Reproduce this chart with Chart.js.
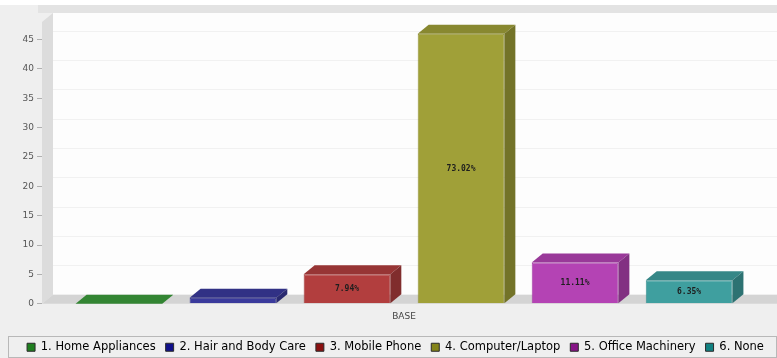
<!DOCTYPE html>
<html>
<head>
<meta charset="utf-8">
<script src="https://cdn.jsdelivr.net/npm/chart.js@4"></script>
<style>
    html, body { margin: 0; padding: 0; background: #ffffff; }
    #wrap { width: 777px; height: 358px; }
</style>
</head>
<body>
<div id="wrap"><canvas id="myChart"></canvas></div>
<script>
const categories = ['1. Home Appliances', '2. Hair and Body Care', '3. Mobile Phone', '4. Computer/Laptop', '5. Office Machinery', '6. None'];
const values = [0, 1, 5, 46, 7, 4];
const percentLabels = ['0%', '1.59%', '7.94%', '73.02%', '11.11%', '6.35%'];
const xLabels = ['BASE'];
const yTickValues = [0, 5, 10, 15, 20, 25, 30, 35, 40, 45];
const barColors = ['#3c9c3c', '#3a3a9c', '#b23e3e', '#a0a038', '#b443b4', '#3f9f9f'];
const legendColors = ['#1f7f1f', '#10108a', '#8a1010', '#84841a', '#861486', '#118181'];

const DX = 11;
const DY = 9;

function shade(hex, f) {
    const n = parseInt(hex.slice(1), 16);
    const r = Math.round(((n >> 16) & 255) * f);
    const g = Math.round(((n >> 8) & 255) * f);
    const b = Math.round((n & 255) * f);
    return `rgb(${r}, ${g}, ${b})`;
}

const fundo3d = {
    id: 'fundo3d',
    beforeDraw(chart) {
        const { ctx, chartArea: a, width, height } = chart;
        const yScale = chart.scales.y;
        ctx.save();
        ctx.fillStyle = '#efefef';
        ctx.fillRect(0, 0, width, height);
        ctx.fillStyle = '#ffffff';
        ctx.fillRect(0, 0, width, 5);

        // faixa de cima
        ctx.fillStyle = '#e3e3e3';
        ctx.fillRect(a.left - 4, 5, width - a.left + 4, a.top - DY - 5);

        // parede do fundo
        ctx.fillStyle = '#fdfdfd';
        ctx.fillRect(a.left + DX, a.top - DY, width - a.left - DX, a.bottom - a.top);

        // linhas de grade na parede
        ctx.strokeStyle = '#f1f1f1';
        ctx.lineWidth = 1;
        yTickValues.forEach(function (v) {
            const y = Math.round(yScale.getPixelForValue(v) - DY) + 0.5;
            ctx.beginPath();
            ctx.moveTo(a.left + DX, y);
            ctx.lineTo(width, y);
            ctx.stroke();
        });

        // parede esquerda
        ctx.fillStyle = '#dcdcdc';
        ctx.beginPath();
        ctx.moveTo(a.left, a.bottom);
        ctx.lineTo(a.left, a.top);
        ctx.lineTo(a.left + DX, a.top - DY);
        ctx.lineTo(a.left + DX, a.bottom - DY);
        ctx.closePath();
        ctx.fill();

        // chao
        ctx.fillStyle = '#d4d4d4';
        ctx.beginPath();
        ctx.moveTo(a.left, a.bottom);
        ctx.lineTo(a.left + DX, a.bottom - DY);
        ctx.lineTo(width, a.bottom - DY);
        ctx.lineTo(width, a.bottom);
        ctx.closePath();
        ctx.fill();
        ctx.restore();
    },
    afterDatasetsDraw(chart) {
        const { ctx } = chart;
        ctx.save();
        chart.data.datasets.forEach(function (ds, i) {
            const meta = chart.getDatasetMeta(i);
            meta.data.forEach(function (bar) {
                const w = bar.width;
                const x0 = bar.x - w / 2;
                const x1 = bar.x + w / 2;
                const top = bar.y;
                const base = bar.base;

                // face de cima
                ctx.fillStyle = shade(barColors[i], 0.85);
                ctx.beginPath();
                ctx.moveTo(x0, top);
                ctx.lineTo(x0 + DX, top - DY);
                ctx.lineTo(x1 + DX, top - DY);
                ctx.lineTo(x1, top);
                ctx.closePath();
                ctx.fill();

                // face lateral
                ctx.fillStyle = shade(barColors[i], 0.72);
                ctx.beginPath();
                ctx.moveTo(x1, top);
                ctx.lineTo(x1 + DX, top - DY);
                ctx.lineTo(x1 + DX, base - DY);
                ctx.lineTo(x1, base);
                ctx.closePath();
                ctx.fill();

                // rotulo
                if (base - top > 14) {
                    ctx.fillStyle = '#1e1e1e';
                    ctx.font = 'bold 8px "DejaVu Sans Mono"';
                    ctx.textAlign = 'center';
                    ctx.textBaseline = 'middle';
                    ctx.fillText(percentLabels[i], bar.x, (top + base) / 2);
                }
            });
        });
        ctx.restore();
    },
    afterDraw(chart) {
        const { ctx, legend } = chart;
        const caixa = legend.legendHitBoxes[0];
        ctx.save();
        ctx.strokeStyle = '#b8b8b8';
        ctx.lineWidth = 1;
        const topo = Math.round(caixa.top + caixa.height / 2 - 11) + 0.5;
        ctx.strokeRect(8.5, topo, chart.width - 9, 21);
        ctx.restore();
    }
};

const datasets = categories.map(function (nome, i) {
    return {
        label: nome,
        data: [values[i]],
        backgroundColor: barColors[i],
        borderColor: shade(barColors[i], 0.9),
        borderWidth: 1,
        categoryPercentage: 0.945,
        barPercentage: 0.76
    };
});

new Chart(document.getElementById('myChart'), {
    type: 'bar',
    data: {
        labels: xLabels,
        datasets: datasets
    },
    options: {
        responsive: true,
        maintainAspectRatio: false,
        animation: false,
        layout: {
            padding: { top: 22, right: 0, left: 14, bottom: -5 }
        },
        plugins: {
            tooltip: { enabled: false },
            legend: {
                position: 'bottom',
                labels: {
                    boxWidth: 8,
                    boxHeight: 8,
                    padding: 10,
                    color: '#333333',
                    font: { family: '"DejaVu Sans"', size: 11.5 },
                    generateLabels: function (chart) {
                        return chart.data.datasets.map(function (ds, i) {
                            return {
                                text: ds.label,
                                fillStyle: legendColors[i],
                                strokeStyle: '#2a2a2a',
                                lineWidth: 1,
                                datasetIndex: i
                            };
                        });
                    }
                }
            }
        },
        scales: {
            x: {
                grid: { display: false },
                border: { display: false },
                afterFit: function (axis) { axis.height += 9; },
                ticks: {
                    color: '#444444',
                    font: { family: '"DejaVu Sans"', size: 9 },
                    padding: 0
                }
            },
            y: {
                min: 0,
                max: 48,
                afterFit: function (axis) { axis.width = 28; },
                afterBuildTicks: function (axis) {
                    axis.ticks = yTickValues.map(function (v) { return { value: v }; });
                },
                grid: {
                    drawOnChartArea: false,
                    color: '#b0b0b0',
                    tickLength: 5
                },
                border: { display: false },
                ticks: {
                    color: '#555555',
                    font: { family: '"DejaVu Sans"', size: 9 },
                    padding: 3
                }
            },
            margem: {
                type: 'linear',
                position: 'right',
                afterFit: function (axis) { axis.width = 11; },
                grid: { display: false },
                border: { display: false },
                ticks: { display: false }
            }
        }
    },
    plugins: [fundo3d]
});
</script>
</body>
</html>
